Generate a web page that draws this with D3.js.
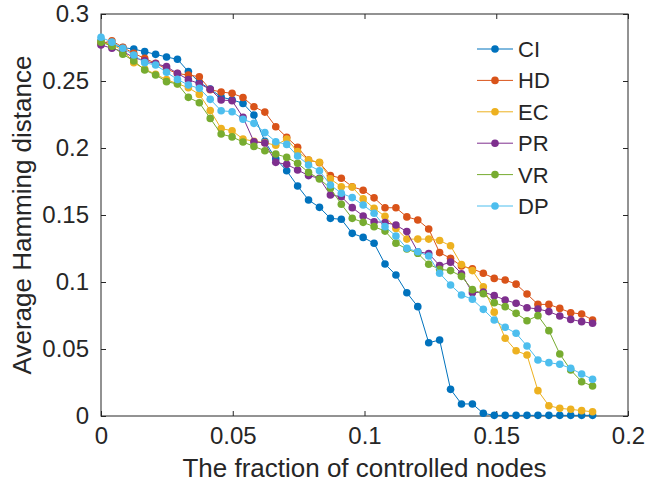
<!DOCTYPE html>
<html><head><meta charset="utf-8">
<script src="https://cdn.jsdelivr.net/npm/d3@7/dist/d3.min.js"></script>
<style>body{margin:0;background:#fff}svg{display:block}</style>
</head><body>
<svg id="chart" width="648" height="491"></svg>
<script>
const nPoints = 46;
const xStep = 0.18655 / 45;
const seriesNames = ["CI","HD","EC","PR","VR","DP"];
const seriesColors = ["#0072BD","#D95319","#EDB120","#7E2F8E","#77AC30","#4DBEEE"];
const CI = [0.280,0.277,0.275,0.2738,0.2719,0.2699,0.2679,0.2662,0.257,0.249,0.244,0.238,0.236,0.2333,0.2246,0.205,0.192,0.183,0.1716,0.1612,0.1557,0.1475,0.1468,0.1363,0.1333,0.1289,0.1134,0.1052,0.092,0.0816,0.0547,0.0567,0.0199,0.009,0.009,0.002,0.0005,0.0005,0.0005,0.0005,0.0005,0.0005,0.0005,0.0005,0.0005,0.0005];
const HD = [0.278,0.280,0.2751,0.2706,0.2669,0.2632,0.259,0.2555,0.2545,0.2532,0.2435,0.2418,0.2408,0.2377,0.2308,0.2268,0.2159,0.208,0.2005,0.191,0.189,0.1795,0.1774,0.1711,0.1685,0.1628,0.1554,0.1554,0.1486,0.1463,0.1396,0.1219,0.1177,0.1119,0.1099,0.1065,0.1027,0.1015,0.0984,0.091,0.0833,0.0833,0.0803,0.0771,0.0761,0.0716];
const EC = [0.279,0.277,0.273,0.2637,0.259,0.255,0.251,0.248,0.245,0.240,0.228,0.2145,0.2129,0.2067,0.205,0.204,0.202,0.2067,0.1973,0.191,0.1893,0.177,0.1711,0.1709,0.162,0.155,0.149,0.140,0.132,0.132,0.132,0.131,0.127,0.113,0.1085,0.0965,0.0775,0.058,0.0487,0.0455,0.0189,0.0077,0.0057,0.005,0.004,0.0032];
const PR = [0.2769,0.2744,0.272,0.2675,0.265,0.263,0.2607,0.2557,0.251,0.248,0.2438,0.2358,0.2353,0.2229,0.2047,0.2037,0.1893,0.1878,0.1836,0.1794,0.1774,0.1649,0.1637,0.1555,0.1493,0.145,0.1444,0.1425,0.1376,0.1226,0.1212,0.1123,0.1148,0.1062,0.092,0.0925,0.0898,0.0866,0.0841,0.0808,0.0799,0.0779,0.0746,0.0721,0.0704,0.0692];
const VR = [0.279,0.276,0.270,0.265,0.2582,0.2545,0.2495,0.2478,0.2378,0.2338,0.2221,0.2104,0.2083,0.2045,0.2012,0.198,0.1955,0.193,0.1886,0.1818,0.1769,0.170,0.158,0.1475,0.1445,0.1413,0.138,0.129,0.1246,0.1214,0.1133,0.1095,0.1085,0.1042,0.0943,0.0912,0.0846,0.0816,0.0766,0.0711,0.0749,0.0637,0.0463,0.0343,0.0256,0.0224];
const DP = [0.2826,0.279,0.2744,0.2694,0.2637,0.2619,0.2565,0.2512,0.247,0.2445,0.2363,0.2278,0.2271,0.2214,0.2184,0.2115,0.2047,0.2027,0.194,0.1873,0.183,0.1724,0.1662,0.163,0.1575,0.1513,0.1413,0.1343,0.1251,0.1226,0.1194,0.1065,0.0978,0.0903,0.0871,0.0796,0.0716,0.0662,0.0617,0.0522,0.0418,0.0398,0.0386,0.0356,0.0313,0.0274];
const seriesValues = [CI,HD,EC,PR,VR,DP];
const xTicks = [0,0.05,0.1,0.15,0.2];
const xTickLabels = ["0","0.05","0.1","0.15","0.2"];
const yTicks = [0,0.05,0.1,0.15,0.2,0.25,0.3];
const yTickLabels = ["0","0.05","0.1","0.15","0.2","0.25","0.3"];
const xLabel = "The fraction of controlled nodes";
const yLabel = "Average Hamming distance";

const svg = d3.select("#chart");
const L = 101, R = 628, T = 14, B = 416;
const x = d3.scaleLinear().domain([0,0.2]).range([L,R]);
const y = d3.scaleLinear().domain([0,0.3]).range([B,T]);
const font = "'Liberation Sans', Arial, Helvetica, sans-serif";
const txt = "#262626";
const tickLen = 5;

const ax = svg.append("g");
ax.append("rect").attr("x",L).attr("y",T).attr("width",R-L).attr("height",B-T)
  .attr("fill","none").attr("stroke","#262626").attr("stroke-width",1);
const xAxis = d3.axisBottom(x).tickValues(xTicks).tickFormat((d,i)=>xTickLabels[i]).tickSizeInner(-tickLen).tickSizeOuter(0).tickPadding(11);
const gx = svg.append("g").attr("transform",`translate(0,${B})`).call(xAxis);
const xAxisTop = d3.axisTop(x).tickValues(xTicks).tickFormat("").tickSizeInner(-tickLen).tickSizeOuter(0);
const gxt = svg.append("g").attr("transform",`translate(0,${T})`).call(xAxisTop);
const yAxis = d3.axisLeft(y).tickValues(yTicks).tickFormat((d,i)=>yTickLabels[i]).tickSizeInner(-tickLen).tickSizeOuter(0).tickPadding(12);
const gy = svg.append("g").attr("transform",`translate(${L},0)`).call(yAxis);
const yAxisR = d3.axisRight(y).tickValues(yTicks).tickFormat("").tickSizeInner(-tickLen).tickSizeOuter(0);
const gyr = svg.append("g").attr("transform",`translate(${R},0)`).call(yAxisR);
[gx,gxt,gy,gyr].forEach(g=>{
  g.select(".domain").remove();
  g.selectAll(".tick line").attr("stroke","#262626");
  g.selectAll("text").attr("font-family",font).attr("font-size",24).attr("fill",txt);
});

svg.append("text").attr("x",(L+R)/2).attr("y",477).attr("text-anchor","middle")
  .attr("font-family",font).attr("font-size",26).attr("fill",txt).text(xLabel);
svg.append("text").attr("transform",`translate(31,${(T+B)/2}) rotate(-90)`).attr("text-anchor","middle")
  .attr("font-family",font).attr("font-size",26).attr("fill",txt).text(yLabel);

const xs = d3.range(nPoints).map(i=>i*xStep);
const line = d3.line().x((d,i)=>x(xs[i])).y(d=>y(d));
const plot = svg.append("g");
seriesValues.forEach((vals,k)=>{
  const g = plot.append("g");
  g.append("path").attr("d",line(vals)).attr("fill","none").attr("stroke",seriesColors[k]).attr("stroke-width",1);
  g.selectAll("circle").data(vals).join("circle")
    .attr("cx",(d,i)=>x(xs[i])).attr("cy",d=>y(d)).attr("r",3.8).attr("fill",seriesColors[k]);
});

const leg = svg.append("g");
seriesNames.forEach((name,k)=>{
  const yy = 49 + k*31.4;
  leg.append("line").attr("x1",477).attr("x2",513).attr("y1",yy).attr("y2",yy).attr("stroke",seriesColors[k]).attr("stroke-width",1);
  leg.append("circle").attr("cx",495).attr("cy",yy).attr("r",3.8).attr("fill",seriesColors[k]);
  leg.append("text").attr("x",518).attr("y",yy+8).attr("font-family",font).attr("font-size",22).attr("fill",txt).text(name);
});
</script>
</body></html>
